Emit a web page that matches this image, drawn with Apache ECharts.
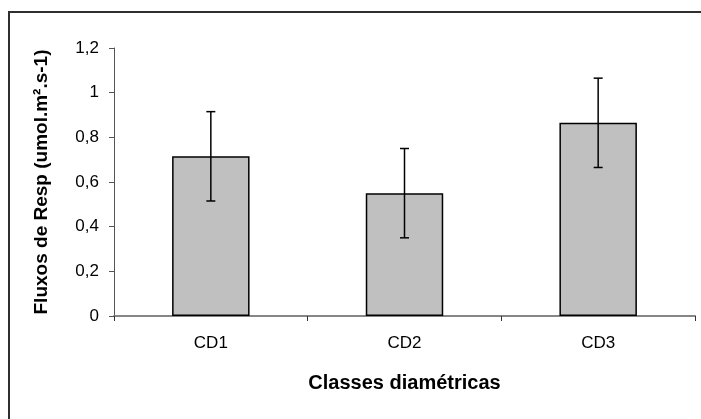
<!DOCTYPE html>
<html>
<head>
<meta charset="utf-8">
<script src="https://cdn.jsdelivr.net/npm/echarts@6/dist/echarts.min.js"></script>
<style>
  html, body { margin: 0; padding: 0; background: #fff; }
  #chart { width: 701px; height: 419px; }
</style>
</head>
<body>
<div id="chart"></div>
<script>
// Respiration flux by diametric class, mean ± error
const categories = ['CD1', 'CD2', 'CD3'];
const fluxMean = [0.715, 0.55, 0.865];
const fluxError = [0.2, 0.2, 0.2];
const yTicks = { min: 0, max: 1.2, interval: 0.2 };

const errorData = categories.map((c, i) => [i, fluxMean[i] - fluxError[i], fluxMean[i] + fluxError[i]]);

const chart = echarts.init(document.getElementById('chart'), null, { renderer: 'canvas' });

chart.setOption({
  animation: false,
  backgroundColor: '#ffffff',
  grid: { left: 114, right: 6, top: 48, bottom: 103 },
  xAxis: {
    type: 'category',
    data: categories,
    name: 'Classes diamétricas',
    nameLocation: 'middle',
    nameGap: 57,
    nameTextStyle: { fontFamily: 'Liberation Sans', fontWeight: 'bold', fontSize: 20, color: '#000' },
    axisLine: { lineStyle: { color: '#868686', width: 2 } },
    axisTick: { show: true, length: 5, lineStyle: { color: '#333', width: 1 } },
    axisLabel: { fontFamily: 'Liberation Sans', fontSize: 17, color: '#000', margin: 19 }
  },
  yAxis: {
    type: 'value',
    min: yTicks.min,
    max: yTicks.max,
    interval: yTicks.interval,
    name: 'Fluxos de Resp (umol.m².s-1)',
    nameLocation: 'middle',
    nameGap: 63,
    nameTextStyle: { fontFamily: 'Liberation Sans', fontWeight: 'bold', fontSize: 19, color: '#000' },
    splitLine: { show: false },
    axisLine: { show: true, lineStyle: { color: '#555', width: 1 } },
    axisTick: { show: true, length: 5, lineStyle: { color: '#555', width: 1 } },
    axisLabel: {
      fontFamily: 'Liberation Sans', fontSize: 17, color: '#000', margin: 15,
      formatter: v => String(Math.round(v * 10) / 10).replace('.', ',')
    }
  },
  series: [
    {
      type: 'bar',
      data: fluxMean,
      barWidth: '40%',
      itemStyle: { color: '#c0c0c0', borderColor: '#000', borderWidth: 1.5 }
    },
    {
      type: 'custom',
      data: errorData,
      encode: { x: 0, y: [1, 2] },
      z: 10,
      renderItem: function (params, api) {
        const x = api.value(0);
        const lo = api.coord([x, api.value(1)]);
        const hi = api.coord([x, api.value(2)]);
        const hw = 4.5;
        const style = { stroke: '#000', lineWidth: 1.5 };
        return {
          type: 'group',
          children: [
            { type: 'line', shape: { x1: lo[0], y1: lo[1], x2: hi[0], y2: hi[1] }, style },
            { type: 'line', shape: { x1: hi[0] - hw, y1: hi[1], x2: hi[0] + hw, y2: hi[1] }, style },
            { type: 'line', shape: { x1: lo[0] - hw, y1: lo[1], x2: lo[0] + hw, y2: lo[1] }, style }
          ]
        };
      }
    }
  ],
  graphic: [
    {
      type: 'polyline',
      shape: { points: [[9, 425], [9, 12], [705, 12]] },
      style: { stroke: '#2f2f2f', lineWidth: 2, fill: null },
      silent: true
    }
  ]
});
</script>
</body>
</html>
